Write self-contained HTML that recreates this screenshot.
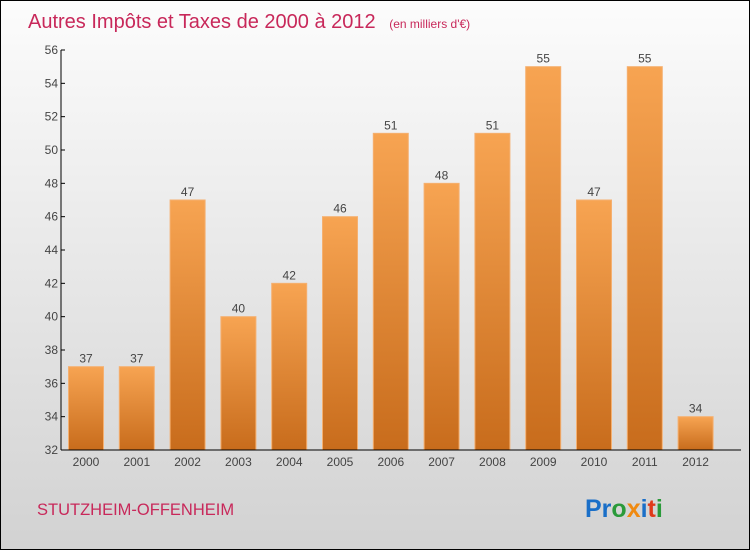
<!DOCTYPE html>
<html><head><meta charset="utf-8"><style>
body{margin:0}
#wrap{position:relative;width:748px;height:548px;border:1px solid #000;background:linear-gradient(#fcfcfc,#d2d2d2);font-family:"Liberation Sans",sans-serif;overflow:hidden}
</style></head><body>
<div id="wrap">
<svg id="chart" width="748" height="548">
<defs><linearGradient id="bg" x1="0" y1="0" x2="0" y2="1"><stop offset="0" stop-color="#f7a452"/><stop offset="1" stop-color="#c86c1c"/></linearGradient></defs>
<text x="27" y="27" font-size="20" fill="#c8285a">Autres Impôts et Taxes de 2000 à 2012 <tspan font-size="12" dx="8">(en milliers d'€)</tspan></text>
<text x="36" y="514" font-size="16.5" fill="#c8285a">STUTZHEIM-OFFENHEIM</text>
<text x="584" y="516" font-size="25" font-weight="bold"><tspan fill="#1a6fc8">Pr</tspan><tspan fill="#2a9a3a">o</tspan><tspan fill="#f08a10">x</tspan><tspan fill="#1a6fc8">i</tspan><tspan fill="#e03a1a">t</tspan><tspan fill="#2a9a3a">i</tspan></text>
</svg>
</div>
<script>
const categories=["2000","2001","2002","2003","2004","2005","2006","2007","2008","2009","2010","2011","2012"];
const values=[37,37,47,40,42,46,51,48,51,55,47,55,34];
const yTicks=[32,34,36,38,40,42,44,46,48,50,52,54,56];
const svg=document.getElementById('chart');
const NS='http://www.w3.org/2000/svg';
const x0=60,x1=740,y0=449,y1=49,vmin=32,vmax=56;
const y=v=>y0-(v-vmin)/(vmax-vmin)*(y0-y1);
const step=50.8,first=85;
const xc=i=>first+i*step;
function mk(t,a){const e=document.createElementNS(NS,t);for(const k in a)e.setAttribute(k,a[k]);svg.appendChild(e);return e;}
values.forEach((v,i)=>{
 const r=mk('rect',{x:xc(i)-17.5,y:y(v),width:35,height:y0-y(v),fill:'url(#bg)',stroke:'#f5b070','stroke-width':1});
 
 
 const t=mk('text',{x:xc(i),y:y(v)-4,'font-size':12,fill:'#444','text-anchor':'middle'});
 t.textContent=v;
 
 
 const c=mk('text',{x:xc(i),y:y0+16,'font-size':12,fill:'#444','text-anchor':'middle'});
 c.textContent=categories[i];
 
 
});
yTicks.forEach(v=>{
 mk('line',{x1:x0,x2:x0+4,y1:y(v),y2:y(v),stroke:'#000'});
 const t=mk('text',{x:x0-3,y:y(v)+4,'font-size':12,fill:'#444','text-anchor':'end'});
 t.textContent=v;
 
 
});
const ya=mk('line',{x1:x0,x2:x0,y1:y1,y2:y0,stroke:'#000'});


const xa=mk('line',{x1:x0,x2:x1,y1:y0,y2:y0,stroke:'#000'});


</script>
</body></html>
